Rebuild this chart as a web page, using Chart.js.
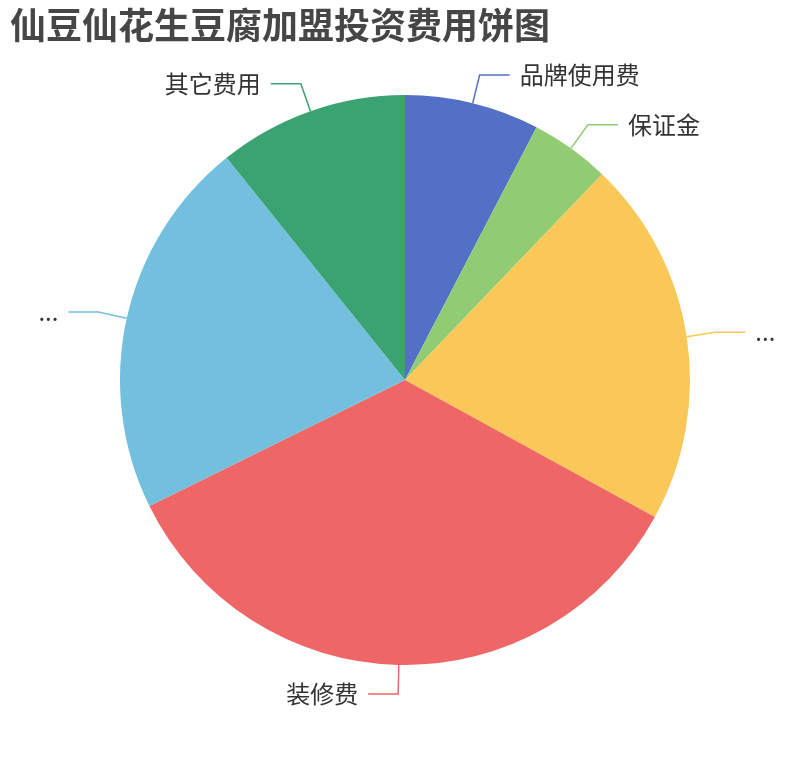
<!DOCTYPE html>
<html>
<head>
<meta charset="utf-8">
<script src="https://cdn.jsdelivr.net/npm/chart.js@4.4.1/dist/chart.umd.min.js"></script>
<style>
  html, body { margin: 0; padding: 0; background: #ffffff; }
  #wrap { width: 810px; height: 760px; }
</style>
</head>
<body>
<div id="wrap"><canvas id="c" width="810" height="760"></canvas></div>
<script>
const chartTitle = '仙豆仙花生豆腐加盟投资费用饼图';
const categories = ['品牌使用费', '保证金', '...', '装修费', '...', '其它费用'];
const values = [2.2, 1.3, 6, 10, 6.2, 3.1];
const colors = ['#5470c6', '#91cc75', '#fac858', '#ee6666', '#73c0de', '#3ba272'];

const FONT = '"Noto Sans CJK SC", "Noto Sans", sans-serif';

const leaderLabels = {
  id: 'leaderLabels',
  afterDatasetsDraw(chart) {
    const ctx = chart.ctx;
    const meta = chart.getDatasetMeta(0);
    ctx.save();
    meta.data.forEach((arc, i) => {
      const p = arc.getProps(['x', 'y', 'startAngle', 'endAngle', 'outerRadius'], true);
      const mid = (p.startAngle + p.endAngle) / 2;
      const cx = Math.cos(mid), sy = Math.sin(mid);
      const x0 = p.x + cx * p.outerRadius, y0 = p.y + sy * p.outerRadius;
      const x1 = p.x + cx * (p.outerRadius + 29), y1 = p.y + sy * (p.outerRadius + 29);
      const dir = cx >= 0 ? 1 : -1;
      const x2 = x1 + dir * 30;
      ctx.strokeStyle = colors[i];
      ctx.lineWidth = 1.5;
      ctx.beginPath();
      ctx.moveTo(x0, y0);
      ctx.lineTo(x1, y1);
      ctx.lineTo(x2, y1);
      ctx.stroke();
      ctx.fillStyle = '#333333';
      ctx.font = '24px ' + FONT;
      ctx.textBaseline = 'middle';
      ctx.textAlign = dir > 0 ? 'left' : 'right';
      ctx.fillText(chart.data.labels[i], x2 + dir * 10, y1);
    });
    ctx.restore();
  }
};

const titleSize = 36;
const titleBlock = titleSize * 1.2 + 8;

new Chart(document.getElementById('c'), {
  type: 'pie',
  data: {
    labels: categories,
    datasets: [{
      data: values,
      backgroundColor: colors,
      borderWidth: 0,
      radius: 285
    }]
  },
  options: {
    responsive: false,
    animation: false,
    layout: { padding: { left: 10, right: 10, top: 0, bottom: titleBlock } },
    plugins: {
      legend: { display: false },
      tooltip: { enabled: false },
      title: {
        display: true,
        text: chartTitle,
        align: 'start',
        color: '#464646',
        font: { size: titleSize, weight: 'bold', family: FONT },
        padding: { top: 4, bottom: 4 }
      }
    }
  },
  plugins: [leaderLabels]
});
</script>
</body>
</html>
